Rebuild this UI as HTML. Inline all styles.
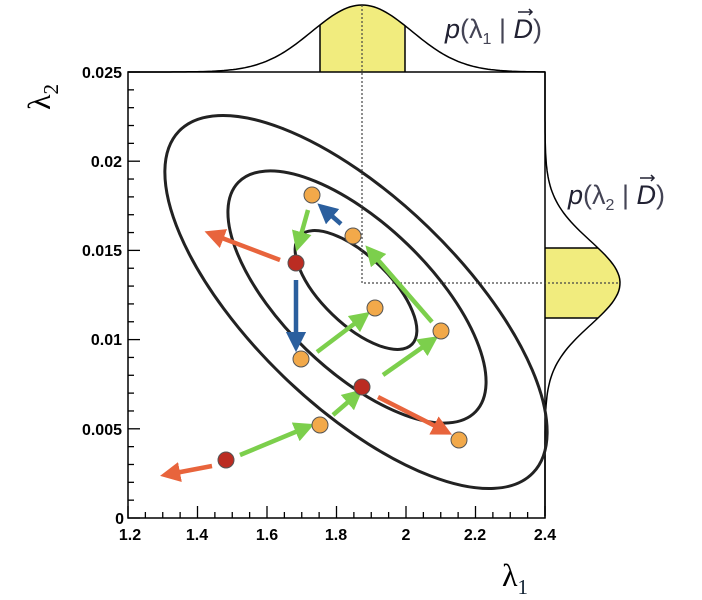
<!DOCTYPE html>
<html><head><meta charset="utf-8"><style>body{margin:0;background:#fff}svg{display:block}</style></head>
<body>
<svg id="s" width="702" height="600" viewBox="0 0 702 600" xmlns="http://www.w3.org/2000/svg" font-family="Liberation Sans, sans-serif">
<defs>
<marker id="mo" viewBox="0 0 10 10" refX="5" refY="5" markerWidth="4.5" markerHeight="4.5" orient="auto"><path d="M0,0L10,5L0,10z" fill="#e8643c"/></marker>
<marker id="mg" viewBox="0 0 10 10" refX="5" refY="5" markerWidth="4.5" markerHeight="4.5" orient="auto"><path d="M0,0L10,5L0,10z" fill="#7ccf4c"/></marker>
<marker id="mb" viewBox="0 0 10 10" refX="5" refY="5" markerWidth="4.5" markerHeight="4.5" orient="auto"><path d="M0,0L10,5L0,10z" fill="#2b5f9e"/></marker>
</defs>
<g id="hist"></g>
<rect x="128" y="72" width="417" height="446" fill="none" stroke="#000" stroke-width="1.5"/>
<g id="ticks" stroke="#000" stroke-width="1.3"></g>
<g fill="none" stroke="#222" stroke-width="3">
<ellipse cx="356" cy="302" rx="246" ry="104" transform="rotate(44 356 302)"/>
<ellipse cx="357" cy="297" rx="165" ry="73" transform="rotate(44 357 297)"/>
<ellipse cx="356" cy="290" rx="78" ry="34" transform="rotate(44 356 290)"/>
</g>
<path d="M362 5V283H620" fill="none" stroke="#444" stroke-width="1.2" stroke-dasharray="2,2"/>
<g stroke-width="4.5" fill="none">
<line x1="280" y1="260" x2="214" y2="235" stroke="#e8643c" marker-end="url(#mo)"/>
<line x1="378" y1="397" x2="443" y2="430" stroke="#e8643c" marker-end="url(#mo)"/>
<line x1="212" y1="466" x2="170" y2="474" stroke="#e8643c" marker-end="url(#mo)"/>
<line x1="308" y1="210" x2="299" y2="242" stroke="#7ccf4c" marker-end="url(#mg)"/>
<line x1="432" y1="322" x2="372" y2="253" stroke="#7ccf4c" marker-end="url(#mg)"/>
<line x1="317" y1="352" x2="362" y2="318" stroke="#7ccf4c" marker-end="url(#mg)"/>
<line x1="383" y1="375" x2="430" y2="342" stroke="#7ccf4c" marker-end="url(#mg)"/>
<line x1="240" y1="455" x2="305" y2="428" stroke="#7ccf4c" marker-end="url(#mg)"/>
<line x1="333" y1="415" x2="355" y2="396" stroke="#7ccf4c" marker-end="url(#mg)"/>
<line x1="296" y1="280" x2="296" y2="342" stroke="#2b5f9e" marker-end="url(#mb)"/>
<line x1="341" y1="224" x2="325" y2="210" stroke="#2b5f9e" marker-end="url(#mb)"/>
</g>
<g stroke="#555" stroke-width="1">
<g fill="#f2a94a">
<circle cx="312" cy="195" r="8"/><circle cx="353" cy="236" r="8"/><circle cx="375" cy="308" r="8"/><circle cx="441" cy="331" r="8"/><circle cx="301" cy="359" r="8"/><circle cx="320" cy="425" r="8"/><circle cx="459" cy="440" r="8"/>
</g>
<g fill="#bb2c22">
<circle cx="296" cy="263" r="8"/><circle cx="362" cy="387" r="8"/><circle cx="226" cy="460" r="8"/>
</g>
</g>
<g font-weight="bold" font-size="16" text-anchor="end">
<text x="122" y="78">0.025</text><text x="122" y="167">0.02</text><text x="122" y="256">0.015</text><text x="122" y="345">0.01</text><text x="122" y="435">0.005</text><text x="124" y="524">0</text>
</g>
<g font-weight="bold" font-size="16" text-anchor="middle">
<text x="130" y="540">1.2</text><text x="197" y="540">1.4</text><text x="267" y="540">1.6</text><text x="336" y="540">1.8</text><text x="406" y="540">2</text><text x="475" y="540">2.2</text><text x="545" y="540">2.4</text>
</g>
<text x="502" y="586" font-family="Liberation Serif, serif" font-size="32">λ<tspan font-size="21" dy="8" fill="#123">1</tspan></text>
<text x="0" y="0" font-family="Liberation Serif, serif" font-size="32" transform="translate(50,110) rotate(-90)">λ<tspan font-size="21" dy="8">2</tspan></text>
<text x="445" y="38" font-size="27" fill="#223" font-style="italic">p<tspan font-style="normal" fill="#445">(λ<tspan font-size="16" dy="6">1</tspan><tspan dy="-6"> | </tspan></tspan>D<tspan font-style="normal" fill="#445">)</tspan></text>
<text x="568" y="204" font-size="27" fill="#223" font-style="italic">p<tspan font-style="normal" fill="#445">(λ<tspan font-size="16" dy="6">2</tspan><tspan dy="-6"> | </tspan></tspan>D<tspan font-style="normal" fill="#445">)</tspan></text>
<g stroke="#223" stroke-width="1.5" fill="none"><path d="M518 12h14M529 9l3 3-3 3"/><path d="M640 178h14M651 175l3 3-3 3"/></g>
</svg>
<script>
var NS="http://www.w3.org/2000/svg",h=document.getElementById('hist'),t=document.getElementById('ticks');
function el(n,a,p){var e=document.createElementNS(NS,n);for(var k in a)e.setAttribute(k,a[k]);(p||h).appendChild(e);return e;}
var mu=362,sg=50,pk=67,d="M128 72",yel="";
for(var x=128;x<=545;x+=3){var y=72-pk*Math.exp(-0.5*Math.pow((x-mu)/sg,2));d+="L"+x+" "+y.toFixed(1);}
var ya="M320 72";for(var x=320;x<=405;x+=3){ya+="L"+x+" "+(72-pk*Math.exp(-0.5*Math.pow((x-mu)/sg,2))).toFixed(1);}ya+="L405 72Z";
el('path',{d:ya,fill:'#f1ec7e'});el('path',{d:d,fill:'none',stroke:'#000','stroke-width':1.5});
el('line',{x1:320,y1:72,x2:320,y2:72-pk*Math.exp(-0.5*Math.pow((320-mu)/sg,2)),stroke:'#000','stroke-width':1.5});
el('line',{x1:405,y1:72,x2:405,y2:72-pk*Math.exp(-0.5*Math.pow((405-mu)/sg,2)),stroke:'#000','stroke-width':1.5});
var mu2=283,sg2=42,pk2=75;d="M545 72";
for(var y=72;y<=518;y+=3){d+="L"+(545+pk2*Math.exp(-0.5*Math.pow((y-mu2)/sg2,2))).toFixed(1)+" "+y;}
ya="M545 248";for(var y=248;y<=318;y+=3){ya+="L"+(545+pk2*Math.exp(-0.5*Math.pow((y-mu2)/sg2,2))).toFixed(1)+" "+y;}ya+="L545 318Z";
el('path',{d:ya,fill:'#f1ec7e'});el('path',{d:d,fill:'none',stroke:'#000','stroke-width':1.5});
el('line',{x1:545,y1:248,x2:545+pk2*Math.exp(-0.5*Math.pow((248-mu2)/sg2,2)),y2:248,stroke:'#000','stroke-width':1.5});
el('line',{x1:545,y1:318,x2:545+pk2*Math.exp(-0.5*Math.pow((318-mu2)/sg2,2)),y2:318,stroke:'#000','stroke-width':1.5});
for(var i=0;i<=25;i++){var y=518-i*446/25,L=(i%5==0)?12:6;el('line',{x1:128,y1:y,x2:128+L,y2:y},t);}
for(var i=0;i<=24;i++){var x=128+i*417/24,L=(i%4==0)?12:6;el('line',{x1:x,y1:518,x2:x,y2:518-L},t);}
</script>
</body></html>
